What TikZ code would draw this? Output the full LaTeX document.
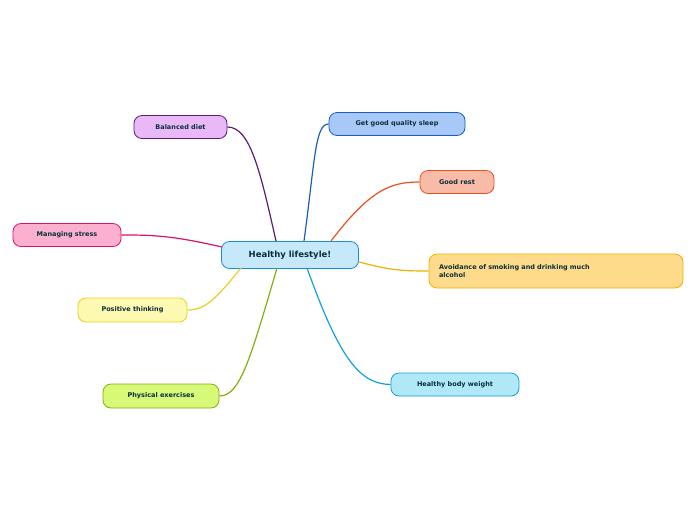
\documentclass[tikz,border=0pt]{standalone}
\usepackage{fontspec}
\setmainfont{DejaVu Sans}
\begin{document}
\begin{tikzpicture}[x=1pt,y=-1pt,
  box/.style={draw,rounded corners=8pt,line width=0.8pt,inner sep=0pt,text=txt,font=\bfseries\fontsize{6.5}{8}\selectfont},
  conn/.style={line width=1.2pt}]
\definecolor{txt}{HTML}{0B2E3A}
\definecolor{a0}{HTML}{C5E9FB}\definecolor{b0}{HTML}{1A8FD0}
\definecolor{a1}{HTML}{E9B8F7}\definecolor{b1}{HTML}{5A1A7A}
\definecolor{a2}{HTML}{A8C8F8}\definecolor{b2}{HTML}{1A5FC0}
\definecolor{a3}{HTML}{F8BBA8}\definecolor{b3}{HTML}{E85020}
\definecolor{a4}{HTML}{FDDB8A}\definecolor{b4}{HTML}{F0B000}
\definecolor{a5}{HTML}{FBB0D0}\definecolor{b5}{HTML}{E0106A}
\definecolor{a6}{HTML}{FEF9B0}\definecolor{b6}{HTML}{E8D020}
\definecolor{a7}{HTML}{D8F878}\definecolor{b7}{HTML}{80B010}
\definecolor{a8}{HTML}{B0E8F8}\definecolor{b8}{HTML}{10A0E0}
\useasboundingbox (0,0) rectangle (696,520);
\node[box,fill=a0,draw=b0,minimum width=137pt,minimum height=27pt,font=\bfseries\fontsize{8.5}{10}\selectfont] (c) at (290,255) {Healthy lifestyle!};
\node[box,fill=a1,draw=b1,minimum width=93pt,minimum height=23pt] (bd) at (180.5,127) {Balanced diet};
\node[box,fill=a2,draw=b2,minimum width=136pt,minimum height=23pt] (gs) at (397,124) {Get good quality sleep};
\node[box,fill=a3,draw=b3,minimum width=74pt,minimum height=23pt] (gr) at (457,182) {Good rest};
\node[box,fill=a4,draw=b4,minimum width=254pt,minimum height=34pt,text width=234pt,align=left] (av) at (556,271) {Avoidance of smoking and drinking much\\alcohol};
\node[box,fill=a5,draw=b5,minimum width=108pt,minimum height=23pt] (ms) at (67,235) {Managing stress};
\node[box,fill=a6,draw=b6,minimum width=109pt,minimum height=24pt] (pt) at (132.5,310) {Positive thinking};
\node[box,fill=a7,draw=b7,minimum width=116pt,minimum height=24pt] (pe) at (161,396) {Physical exercises};
\node[box,fill=a8,draw=b8,minimum width=128pt,minimum height=23pt] (hw) at (455,384.5) {Healthy body weight};
\coordinate (c1) at (276,241);\coordinate (c2) at (304,241);\coordinate (c3) at (331,241);
\coordinate (c4) at (359,262);\coordinate (c5) at (222,247);\coordinate (c6) at (241,268);
\coordinate (c7) at (277,268);\coordinate (c8) at (307,268);
\draw[conn,b1] (c1) .. controls (260,170) and (250,127) .. (bd.east);
\draw[conn,b2] (c2) .. controls (315,160) and (315,124) .. (gs.west);
\draw[conn,b3] (c3) .. controls (370,190) and (390,182) .. (gr.west);
\draw[conn,b4] (c4) .. controls (390,270) and (400,271) .. (av.west);
\draw[conn,b5] (c5) .. controls (170,235) and (150,235) .. (ms.east);
\draw[conn,b6] (c6) .. controls (215,300) and (205,310) .. (pt.east);
\draw[conn,b7] (c7) .. controls (250,360) and (240,396) .. (pe.east);
\draw[conn,b8] (c8) .. controls (340,360) and (360,384) .. (hw.west);
\end{tikzpicture}
\end{document}
